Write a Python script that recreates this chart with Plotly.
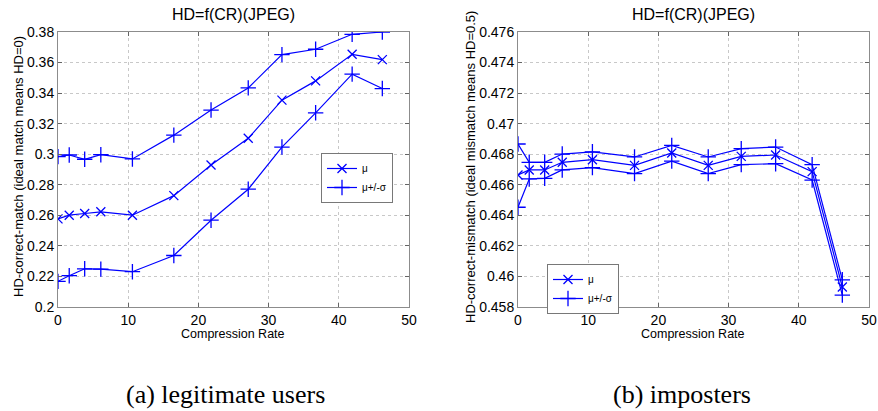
import plotly.graph_objects as go

# ---- data ----
cr_a = [0, 1.6, 3.8, 6.1, 10.6, 16.5, 21.8, 27.1, 31.9, 36.7, 41.9, 46.2]
mean_a = [0.2577, 0.2601, 0.2612, 0.2623, 0.2601, 0.2729, 0.2929, 0.3104, 0.3354, 0.3480, 0.3654, 0.3619]
upper_a = [0.2984, 0.2995, 0.2967, 0.2997, 0.2969, 0.3125, 0.3289, 0.3434, 0.3652, 0.3687, 0.3785, 0.3800]
lower_a = [0.2168, 0.2205, 0.2250, 0.2248, 0.2231, 0.2337, 0.2568, 0.2771, 0.3047, 0.3271, 0.3524, 0.3430]

cr_b = [0, 1.6, 3.8, 6.3, 10.6, 16.6, 21.9, 27.1, 31.8, 36.7, 41.9, 46.2]
mean_b = [0.46664, 0.46697, 0.46697, 0.46747, 0.46764, 0.46727, 0.46808, 0.46727, 0.46786, 0.46795, 0.46686, 0.45931]
upper_b = [0.46867, 0.46747, 0.46747, 0.46801, 0.46816, 0.46782, 0.46858, 0.46782, 0.46836, 0.46847, 0.46732, 0.45978]
lower_b = [0.46453, 0.46638, 0.46642, 0.46697, 0.46712, 0.46673, 0.46755, 0.46673, 0.46732, 0.46738, 0.46631, 0.45878]

xticks = [0, 10, 20, 30, 40, 50]
yticks_a = [0.2, 0.22, 0.24, 0.26, 0.28, 0.3, 0.32, 0.34, 0.36, 0.38]
yticks_a_text = ["0.2", "0.22", "0.24", "0.26", "0.28", "0.3", "0.32", "0.34", "0.36", "0.38"]
yticks_b = [0.458, 0.46, 0.462, 0.464, 0.466, 0.468, 0.47, 0.472, 0.474, 0.476]
yticks_b_text = ["0.458", "0.46", "0.462", "0.464", "0.466", "0.468", "0.47", "0.472", "0.474", "0.476"]

title_text = "HD=f(CR)(JPEG)"
ylabel_a = "HD-correct-match (ideal match means HD=0)"
ylabel_b = "HD-correct-mismatch (ideal mismatch means HD=0.5)"
xlabel = "Compression Rate"
captions = ["(a) legitimate users", "(b) imposters"]
legend_names = ["\u03bc", "\u03bc+/-\u03c3"]

BLUE = "rgb(0,0,255)"
FONT = "Liberation Sans, Arial, sans-serif"

fig = go.Figure()

def add_panel(x, m, u, l, xa, ya, leg):
    fig.add_trace(go.Scatter(x=x, y=m, mode="lines+markers", name=legend_names[0],
                             line=dict(color=BLUE, width=1.2),
                             marker=dict(symbol="x-thin", size=9, line=dict(color=BLUE, width=1.3)),
                             xaxis=xa, yaxis=ya, legend=leg))
    fig.add_trace(go.Scatter(x=x, y=u, mode="lines+markers", name=legend_names[1],
                             line=dict(color=BLUE, width=1.2),
                             marker=dict(symbol="cross-thin", size=11, line=dict(color=BLUE, width=1.3)),
                             xaxis=xa, yaxis=ya, legend=leg))
    fig.add_trace(go.Scatter(x=x, y=l, mode="lines+markers", name=legend_names[1],
                             line=dict(color=BLUE, width=1.2), showlegend=False,
                             marker=dict(symbol="cross-thin", size=11, line=dict(color=BLUE, width=1.3)),
                             xaxis=xa, yaxis=ya, legend=leg))

add_panel(cr_a, mean_a, upper_a, lower_a, "x", "y", "legend")
add_panel(cr_b, mean_b, upper_b, lower_b, "x2", "y2", "legend2")

W, H = 878, 411
def px_x(p): return p / W
def px_y(p): return 1 - p / H

axis_common = dict(showline=True, linecolor="rgb(140,140,140)", linewidth=1, mirror="ticks",
                   ticks="inside", ticklen=4, tickcolor="rgb(100,100,100)",
                   showgrid=True, gridcolor="rgb(200,200,200)", griddash="dot", gridwidth=1,
                   zeroline=False, automargin=False,
                   tickfont=dict(family=FONT, size=14, color="black"))

ydom = [px_y(307), px_y(32)]
leg_common = dict(xanchor="left", yanchor="top",
                  bordercolor="rgb(120,120,120)", borderwidth=1, bgcolor="white",
                  font=dict(family=FONT, size=10, color="black"), tracegroupgap=0,
                  itemwidth=30)
fig.update_layout(
    width=W, height=H, margin=dict(l=0, r=0, t=0, b=0),
    paper_bgcolor="white", plot_bgcolor="white",
    xaxis=dict(domain=[px_x(58), px_x(409)], range=[0, 50], tickvals=xticks, anchor="y", **axis_common),
    yaxis=dict(domain=ydom, range=[0.2, 0.38], tickvals=yticks_a, ticktext=yticks_a_text, anchor="x", **axis_common),
    xaxis2=dict(domain=[px_x(518), px_x(869)], range=[0, 50], tickvals=xticks, anchor="y2", **axis_common),
    yaxis2=dict(domain=ydom, range=[0.458, 0.476], tickvals=yticks_b, ticktext=yticks_b_text, anchor="x2", **axis_common),
    legend=dict(x=px_x(321), y=px_y(153), **leg_common),
    legend2=dict(x=px_x(547), y=px_y(264), **leg_common),
    showlegend=True,
)

ann = []
for cx in [233, 693]:
    ann.append(dict(text=title_text, x=px_x(cx), y=px_y(15), xref="paper", yref="paper",
                    showarrow=False, font=dict(family=FONT, size=16, color="black"),
                    xanchor="center", yanchor="middle"))
    ann.append(dict(text=xlabel, x=px_x(cx), y=px_y(334), xref="paper", yref="paper",
                    showarrow=False, font=dict(family=FONT, size=12.5, color="black"),
                    xanchor="center", yanchor="middle"))
ann.append(dict(text=ylabel_a, x=px_x(18), y=px_y(167), xref="paper", yref="paper", textangle=-90,
                showarrow=False, font=dict(family=FONT, size=13, color="black"),
                xanchor="center", yanchor="middle"))
ann.append(dict(text=ylabel_b, x=px_x(470), y=px_y(167), xref="paper", yref="paper", textangle=-90,
                showarrow=False, font=dict(family=FONT, size=13, color="black"),
                xanchor="center", yanchor="middle"))
for cx, t in zip([225, 682], captions):
    ann.append(dict(text=t, x=px_x(cx), y=px_y(394), xref="paper", yref="paper",
                    showarrow=False, font=dict(family="Liberation Serif, DejaVu Serif, serif", size=26, color="black"),
                    xanchor="center", yanchor="middle"))
fig.update_layout(annotations=ann)

fig.write_html("out.html", config={"displayModeBar": False},
               post_script="document.body.style.margin='0';document.body.style.overflow='hidden';")
